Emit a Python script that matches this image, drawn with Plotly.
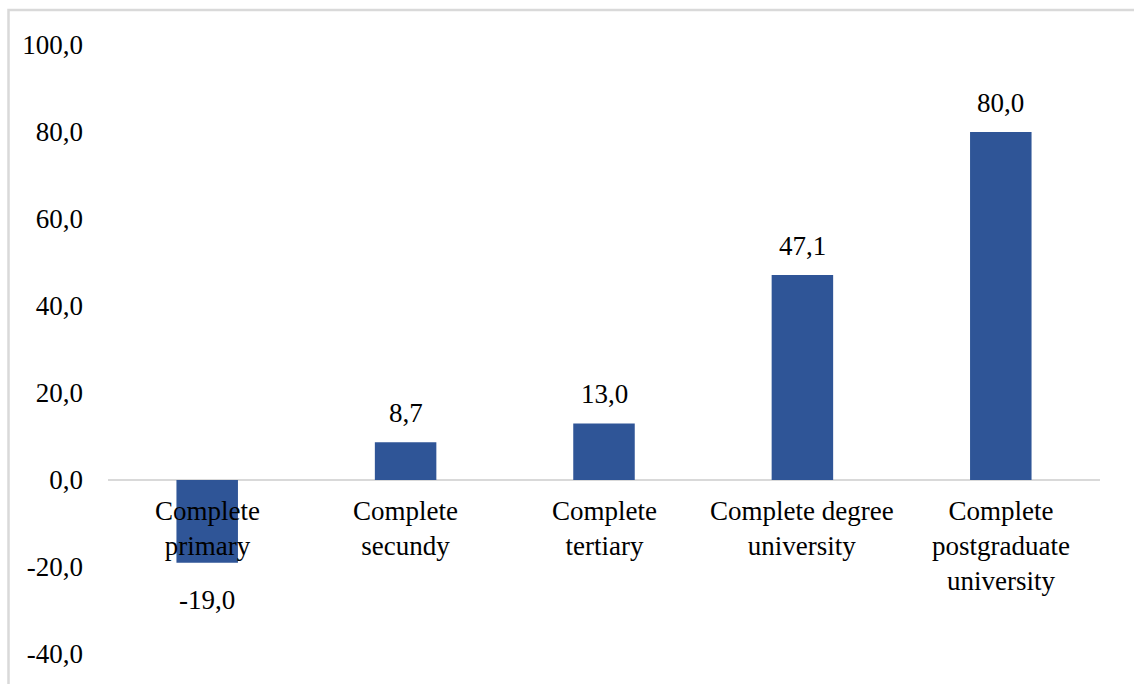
import plotly.graph_objects as go

categories = ["Complete<br>primary", "Complete<br>secundy", "Complete<br>tertiary",
              "Complete degree<br>university", "Complete<br>postgraduate<br>university"]
values = [-19.0, 8.7, 13.0, 47.1, 80.0]
y_ticks = [-40, -20, 0, 20, 40, 60, 80, 100]

BAR = "#2F5597"
FONT = "Liberation Serif"
FS = 27


def fmt(v):
    return f"{v:.1f}".replace(".", ",")


fig = go.Figure()
fig.add_trace(go.Bar(
    x=list(range(len(categories))), y=values, width=0.31,
    marker=dict(color=BAR, line=dict(width=0)),
    hoverinfo="skip",
))

# data labels
for i, v in enumerate(values):
    fig.add_annotation(
        x=i, y=v, xref="x", yref="y",
        text=fmt(v),
        showarrow=False,
        yanchor="bottom" if v >= 0 else "top",
        yshift=12 if v >= 0 else -20,
        font=dict(family=FONT, size=FS, color="#000000"),
    )

# category labels along the zero line
for i, c in enumerate(categories):
    fig.add_annotation(
        x=i, y=0, xref="x", yref="y",
        text=c, showarrow=False, yanchor="top", yshift=-14,
        font=dict(family=FONT, size=FS, color="#000000"),
    )

# outer chart border (top and left visible)
fig.add_shape(type="rect", xref="paper", yref="paper",
              x0=-0.1003, x1=1.2, y0=-0.2, y1=1.0575,
              line=dict(color="#D9D9D9", width=2.5), fillcolor="rgba(0,0,0,0)",
              layer="below")

fig.update_layout(
    width=1134, height=684,
    margin=dict(l=108, r=34, t=45, b=30),
    paper_bgcolor="white", plot_bgcolor="white",
    showlegend=False,
    font=dict(family=FONT, size=FS, color="#000000"),
    xaxis=dict(range=[-0.5, 4.5], showticklabels=False, showgrid=False,
               zeroline=False, showline=False, ticks=""),
    yaxis=dict(range=[-40, 100], tickvals=y_ticks,
               ticktext=[fmt(t) for t in y_ticks],
               showgrid=False, showline=False, zeroline=True,
               zerolinecolor="#D9D9D9", zerolinewidth=2,
               ticks="", ticklabelstandoff=24,
               tickfont=dict(family=FONT, size=FS, color="#000000")),
)

fig.write_html("out.html")
